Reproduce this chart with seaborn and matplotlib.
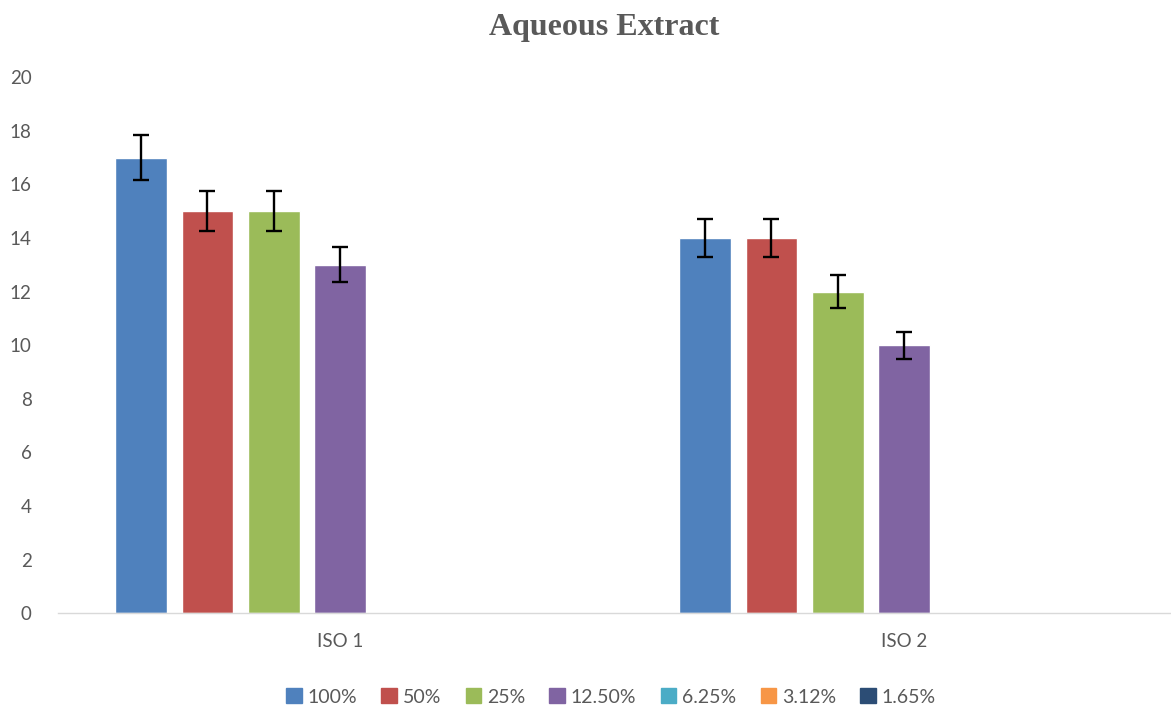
import pandas as pd
import matplotlib
matplotlib.use("Agg")
import matplotlib.pyplot as plt
import seaborn as sns

groups = ["ISO 1", "ISO 2"]
concentrations = ["100%", "50%", "25%", "12.50%", "6.25%", "3.12%", "1.65%"]
iso1 = [17, 15, 15, 13, 0, 0, 0]
iso2 = [14, 14, 12, 10, 0, 0, 0]
err1 = [0.85, 0.75, 0.75, 0.65, 0, 0, 0]
err2 = [0.7, 0.7, 0.6, 0.5, 0, 0, 0]
colors = ["#4F81BD", "#C0504D", "#9BBB59", "#8064A2", "#4BACC6", "#F79646", "#2C4D75"]

rows = []
for g, vals, errs in [(groups[0], iso1, err1), (groups[1], iso2, err2)]:
    for c, v, e in zip(concentrations, vals, errs):
        rows.append({"group": g, "conc": c, "value": v, "err": e})
df = pd.DataFrame(rows)

sns.set_style("white")
plt.rcParams["font.family"] = ["Lato", "DejaVu Sans"]

fig = plt.figure(figsize=(11.71, 7.08), dpi=100)
ax = fig.add_axes([58 / 1171, 0.134, 1128 / 1171, 0.757])

sns.barplot(data=df, x="group", y="value", hue="conc", hue_order=concentrations,
            palette=colors, saturation=1, width=0.823, gap=0.22, errorbar=None,
            ax=ax, legend=False)

# error bars placed on the drawn bars
for cont, c in zip(ax.containers, concentrations):
    sub = df[df["conc"] == c]
    for bar, e in zip(cont, sub["err"]):
        if e > 0:
            xc = bar.get_x() + bar.get_width() / 2
            ax.errorbar(xc, bar.get_height(), yerr=e, color="black",
                        capsize=6, elinewidth=1.7, capthick=1.7)

ax.set_ylim(0, 20)
ax.set_yticks(range(0, 21, 2))
ax.set_xlim(-0.5, 1.5)
ax.set_xlabel("")
ax.set_ylabel("")
ax.tick_params(axis="both", length=0, labelsize=13.5, colors="#595959")
ax.tick_params(axis="x", pad=14)
ax.tick_params(axis="y", pad=19)
for s in ["top", "right", "left"]:
    ax.spines[s].set_visible(False)
ax.spines["bottom"].set_color("#D9D9D9")
ax.spines["bottom"].set_linewidth(1)

fig.text(604 / 1171, 1 - 28 / 708, "Aqueous Extract", fontsize=23, fontweight="bold",
         color="#595959", family="Liberation Serif", ha="center", va="center")

handles = [plt.Rectangle((0, 0), 1, 1, color=col) for col in colors]
fig.legend(handles, concentrations, loc="center", bbox_to_anchor=(611 / 1171, 1 - 697 / 708),
           ncol=7, frameon=False, fontsize=14, handlelength=0.8, handleheight=0.8,
           handletextpad=0.3, columnspacing=1.25, labelcolor="#595959")

fig.savefig("out.png", dpi=100)
